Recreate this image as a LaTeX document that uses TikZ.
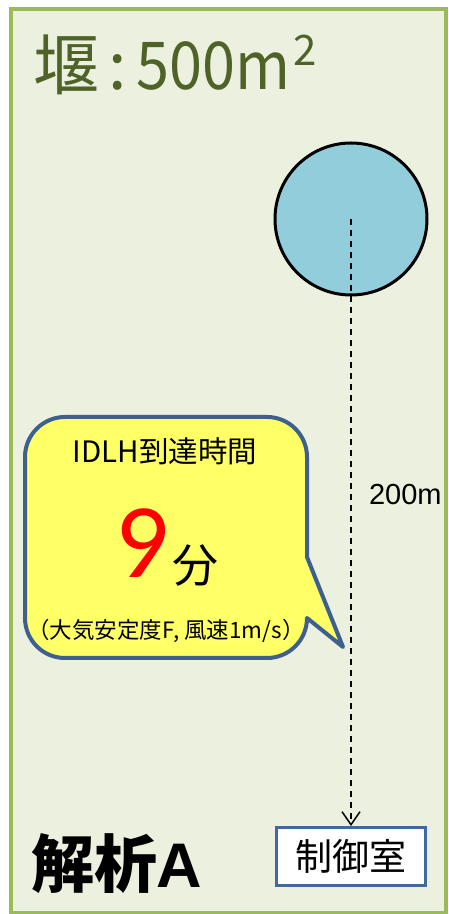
\documentclass[tikz,border=0pt]{standalone}
\usepackage{fontspec}
\setmainfont{Liberation Sans}
\newfontfamily\cjk{Noto Sans CJK JP}
\newfontfamily\carlito{Carlito}
\usetikzlibrary{arrows.meta}
\definecolor{panelfill}{HTML}{EBF1DE}
\definecolor{panelline}{HTML}{9BBB59}
\definecolor{titlegreen}{HTML}{4F6228}
\definecolor{tankfill}{HTML}{92CDDC}
\definecolor{calloutline}{RGB}{62,96,145}
\definecolor{calloutfill}{HTML}{FFFF66}
\definecolor{roomline}{RGB}{65,105,155}
\tikzset{
  panel/.style={draw=panelline, line width=4pt, fill=panelfill},
  tank/.style={circle, draw=black, line width=3pt, fill=tankfill, minimum size=152pt, inner sep=0pt},
  callout/.style={draw=calloutline, line width=4pt, fill=calloutfill, line join=round},
  roombox/.style={draw=roomline, line width=3pt, fill=white, minimum width=149pt, minimum height=58pt, inner sep=0pt},
  flow/.style={line width=1.5pt, dash pattern=on 6pt off 5pt, -{Straight Barb[length=13pt,width=18pt,line width=1.5pt]}},
  txt/.style={inner sep=0pt, outer sep=0pt}
}
\begin{document}
\begin{tikzpicture}[x=1pt,y=1pt]
\useasboundingbox (0,0) rectangle (448,914);
% panel
\draw[panel] (10.5,1) rectangle (446,904.5);
% title
\node[txt, anchor=base west, text=titlegreen] (title) at (34,824)
  {\cjk\fontsize{66}{80}\selectfont 堰\hspace{9pt}:\hspace{9pt}\scalebox{0.9}[1]{500m}\hspace{3pt}\raisebox{24pt}{\fontsize{42}{46}\selectfont 2}};
% tank
\node[tank] (tank) at (351,695) {};
% callout
\draw[callout] (65,497) -- (267,497) arc[start angle=90,end angle=0,radius=40]
  -- (307,357) -- (343,267) -- (307,296) arc[start angle=0,end angle=-90,radius=40]
  -- (65,256) arc[start angle=270,end angle=180,radius=40]
  -- (25,457) arc[start angle=180,end angle=90,radius=40] -- cycle;
\node[txt, anchor=base] (idlh) at (165,451) {\cjk\fontsize{29.5}{33}\selectfont IDLH到達時間};
\node[txt, anchor=base, text=red] (nine) at (142,336) {\carlito\fontsize{106}{110}\selectfont 9};
\node[txt, anchor=base west] (fun) at (172,331) {\cjk\fontsize{46}{50}\selectfont 分};
\node[txt] (cond) at (166,283) {\cjk\fontsize{22.5}{26}\selectfont （大気安定度F, 風速1m/s）};
% control room
\node[roombox] (room) at (351,57.5) {\cjk\fontsize{37}{40}\selectfont 制御室};
% distance
\draw[flow] (tank.center) -- (room.north);
\node[txt, anchor=base west] (dist) at (369,409) {\fontsize{29}{32}\selectfont 200m};
% label
\node[txt, anchor=base west] (case) at (31,27) {\fontsize{63}{66}\selectfont{\cjk\bfseries 解析}{\bfseries A}};
\end{tikzpicture}
\end{document}
